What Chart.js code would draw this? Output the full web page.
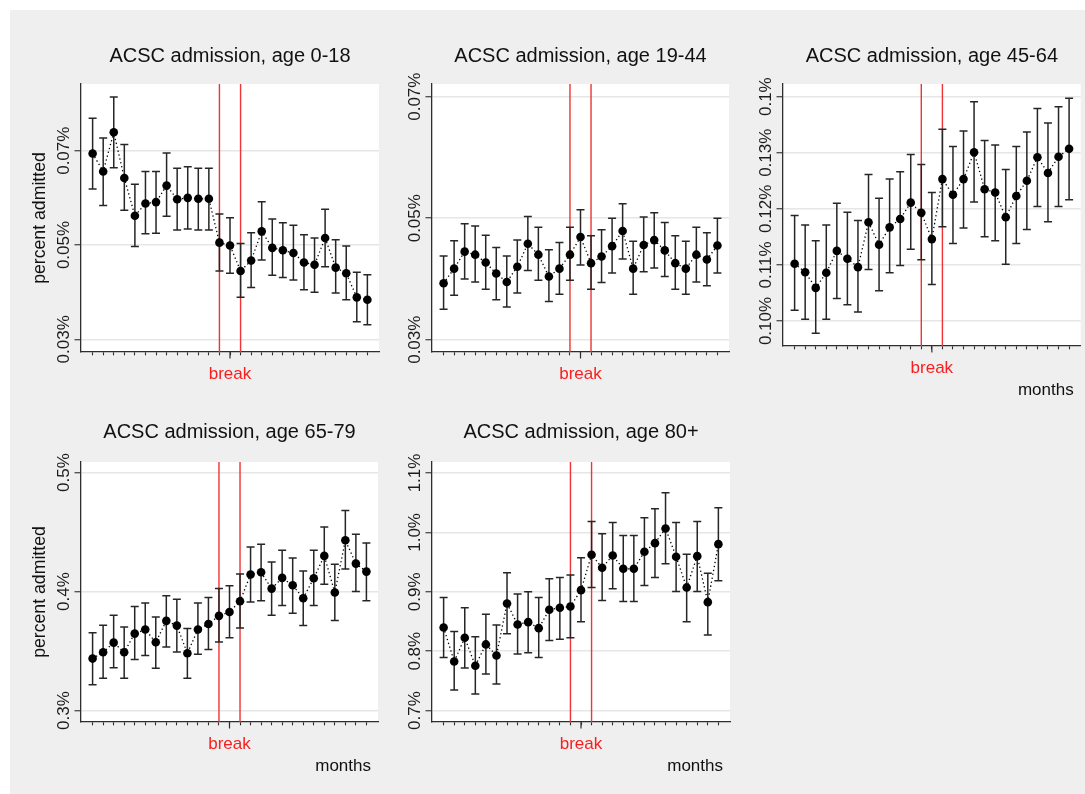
<!DOCTYPE html>
<html>
<head>
<meta charset="utf-8">
<script src="https://cdn.jsdelivr.net/npm/chart.js@4.4.1/dist/chart.umd.min.js"></script>
<style>
  html, body { margin: 0; padding: 0; background: #ffffff; }
  #page { position: relative; width: 1085px; height: 794px; background: #ffffff; overflow: hidden; }
  #region { position: absolute; left: 10px; top: 10px; width: 1075px; height: 784px; background: #efefef; }
  canvas { position: absolute; }
</style>
</head>
<body>
<div id="page">
  <div id="region"></div>
  <canvas id="p1"></canvas>
  <canvas id="p2"></canvas>
  <canvas id="p3"></canvas>
  <canvas id="p4"></canvas>
  <canvas id="p5"></canvas>
</div>
<script>
// Months relative to the break (0); the two red lines mark months -1 and +1.
const months = [-13, -12, -11, -10, -9, -8, -7, -6, -5, -4, -3, -2, -1, 0,
                1, 2, 3, 4, 5, 6, 7, 8, 9, 10, 11, 12, 13];
const breakLines = [-1, 1];
const breakLabel = 'break';
const xAxisTitle = 'months';
const yAxisTitle = 'percent admitted';

// Age 0-18: point estimate and 95% interval (percent admitted)
const est0_18 = [0.0694, 0.0656, 0.0739, 0.0642, 0.0562, 0.0588, 0.0591, 0.0626, 0.0597, 0.0600, 0.0598, 0.0598, 0.0505, 0.0499,
                 0.0445, 0.0467, 0.0529, 0.0494, 0.0489, 0.0483, 0.0463, 0.0458, 0.0515, 0.0452, 0.0440, 0.0389, 0.0384];
const hi0_18  = [0.0769, 0.0727, 0.0814, 0.0713, 0.0629, 0.0656, 0.0656, 0.0695, 0.0663, 0.0666, 0.0663, 0.0663, 0.0566, 0.0558,
                 0.0503, 0.0526, 0.0592, 0.0555, 0.0547, 0.0542, 0.0522, 0.0515, 0.0576, 0.0511, 0.0498, 0.0442, 0.0437];
const lo0_18  = [0.0619, 0.0584, 0.0664, 0.0574, 0.0497, 0.0524, 0.0525, 0.0561, 0.0532, 0.0534, 0.0532, 0.0532, 0.0445, 0.0440,
                 0.0389, 0.0410, 0.0468, 0.0436, 0.0431, 0.0426, 0.0405, 0.0400, 0.0454, 0.0398, 0.0384, 0.0337, 0.0331];
const ticks0_18 = [0.03, 0.05, 0.07];
const tickLabels0_18 = ['0.03%', '0.05%', '0.07%'];

// Age 19-44
const est19_44 = [0.0393, 0.0417, 0.0445, 0.0440, 0.0427, 0.0409, 0.0395, 0.0420, 0.0458, 0.0440, 0.0404, 0.0417, 0.0440, 0.0469,
                  0.0426, 0.0437, 0.0454, 0.0479, 0.0417, 0.0456, 0.0464, 0.0447, 0.0426, 0.0417, 0.0440, 0.0432, 0.0455];
const hi19_44  = [0.0438, 0.0463, 0.0491, 0.0487, 0.0472, 0.0452, 0.0438, 0.0464, 0.0503, 0.0485, 0.0448, 0.0460, 0.0485, 0.0514,
                  0.0471, 0.0481, 0.0500, 0.0524, 0.0462, 0.0502, 0.0509, 0.0493, 0.0471, 0.0462, 0.0485, 0.0476, 0.0500];
const lo19_44  = [0.0350, 0.0373, 0.0400, 0.0395, 0.0383, 0.0366, 0.0354, 0.0377, 0.0414, 0.0398, 0.0363, 0.0375, 0.0398, 0.0423,
                  0.0383, 0.0394, 0.0410, 0.0433, 0.0375, 0.0412, 0.0418, 0.0404, 0.0383, 0.0375, 0.0395, 0.0389, 0.0410];
const ticks19_44 = [0.03, 0.05, 0.07];
const tickLabels19_44 = ['0.03%', '0.05%', '0.07%'];

// Age 45-64
const est45_64 = [0.1102, 0.1087, 0.1059, 0.1086, 0.1125, 0.1111, 0.1096, 0.1176, 0.1136, 0.1167, 0.1182, 0.1211, 0.1193, 0.1146,
                  0.1253, 0.1225, 0.1253, 0.1301, 0.1235, 0.1229, 0.1185, 0.1223, 0.1250, 0.1292, 0.1264, 0.1293, 0.1307];
const hi45_64  = [0.1188, 0.1171, 0.1143, 0.1171, 0.1210, 0.1194, 0.1179, 0.1261, 0.1219, 0.1253, 0.1266, 0.1297, 0.1279, 0.1229,
                  0.1342, 0.1311, 0.1339, 0.1391, 0.1322, 0.1314, 0.1270, 0.1311, 0.1337, 0.1379, 0.1353, 0.1382, 0.1397];
const lo45_64  = [0.1019, 0.1003, 0.0978, 0.1003, 0.1040, 0.1029, 0.1016, 0.1092, 0.1054, 0.1086, 0.1099, 0.1128, 0.1109, 0.1065,
                  0.1168, 0.1138, 0.1166, 0.1212, 0.1150, 0.1143, 0.1101, 0.1138, 0.1163, 0.1204, 0.1177, 0.1204, 0.1216];
const ticks45_64 = [0.10, 0.11, 0.12, 0.13, 0.14];
const tickLabels45_64 = ['0.10%', '0.11%', '0.12%', '0.13%', '0.1%'];

// Age 65-79
const est65_79 = [0.3437, 0.3490, 0.3571, 0.3490, 0.3647, 0.3681, 0.3574, 0.3754, 0.3714, 0.3482, 0.3681, 0.3728, 0.3796, 0.3829,
                  0.3919, 0.4143, 0.4162, 0.4025, 0.4115, 0.4053, 0.3944, 0.4112, 0.4300, 0.3992, 0.4431, 0.4235, 0.4168];
const hi65_79  = [0.3653, 0.3717, 0.3801, 0.3703, 0.3874, 0.3905, 0.3787, 0.3966, 0.3936, 0.3689, 0.3905, 0.3950, 0.4025, 0.4050,
                  0.4148, 0.4375, 0.4398, 0.4249, 0.4347, 0.4283, 0.4174, 0.4347, 0.4543, 0.4230, 0.4681, 0.4482, 0.4409];
const lo65_79  = [0.3218, 0.3272, 0.3359, 0.3272, 0.3429, 0.3462, 0.3356, 0.3535, 0.3493, 0.3272, 0.3473, 0.3513, 0.3577, 0.3611,
                  0.3695, 0.3913, 0.3924, 0.3801, 0.3882, 0.3818, 0.3714, 0.3882, 0.4062, 0.3756, 0.4190, 0.4000, 0.3924];
const ticks65_79 = [0.3, 0.4, 0.5];
const tickLabels65_79 = ['0.3%', '0.4%', '0.5%'];

// Age 80+
const est80 = [0.8400, 0.7827, 0.8226, 0.7755, 0.8114, 0.7928, 0.8804, 0.8450, 0.8489, 0.8388, 0.8697, 0.8731, 0.8753, 0.9028,
               0.9623, 0.9404, 0.9612, 0.9387, 0.9387, 0.9673, 0.9819, 1.0066, 0.9589, 0.9073, 0.9600, 0.8826, 0.9802];
const hi80  = [0.8905, 0.8332, 0.8731, 0.8243, 0.8624, 0.8439, 0.9320, 0.8961, 0.9000, 0.8905, 0.9219, 0.9241, 0.9281, 0.9572,
               1.0184, 0.9976, 1.0167, 0.9948, 0.9948, 1.0245, 1.0397, 1.0666, 1.0167, 0.9634, 1.0184, 0.9314, 1.0414];
const lo80  = [0.7895, 0.7345, 0.7715, 0.7278, 0.7614, 0.7446, 0.8293, 0.7951, 0.7973, 0.7895, 0.8181, 0.8203, 0.8226, 0.8495,
               0.9073, 0.8854, 0.9050, 0.8837, 0.8837, 0.9107, 0.9241, 0.9471, 0.9006, 0.8495, 0.9006, 0.8271, 0.9185];
const ticks80 = [0.7, 0.8, 0.9, 1.0, 1.1];
const tickLabels80 = ['0.7%', '0.8%', '0.9%', '1.0%', '1.1%'];

// ---------------------------------------------------------------------------
const FONT = '"Liberation Sans", Arial, Helvetica, sans-serif';
const AXIS_COLOR = '#2e2e2e';
const TEXT_COLOR = '#111111';
const RED = 'rgb(238, 52, 52)';
const AX = 8; // reserved thickness of each axis box

// cell = canvas [x, y, w, h] on the page; plot = [left, top, right, bottom] of the plot region
const panels = [
  { id: 'p1', title: 'ACSC admission, age 0-18', est: est0_18, lo: lo0_18, hi: hi0_18,
    yTicks: ticks0_18, yLabels: tickLabels0_18, yMin: 0.02731, yMax: 0.08415,
    cell: [10, 10, 380, 400], plot: [81, 84, 379, 352], titleY: 62, yTitle: true, xTitle: false },
  { id: 'p2', title: 'ACSC admission, age 19-44', est: est19_44, lo: lo19_44, hi: hi19_44,
    yTicks: ticks19_44, yLabels: tickLabels19_44, yMin: 0.02798, yMax: 0.07209,
    cell: [390, 10, 350, 400], plot: [432, 84, 729, 352], titleY: 62, yTitle: false, xTitle: false },
  { id: 'p3', title: 'ACSC admission, age 45-64', est: est45_64, lo: lo45_64, hi: hi45_64,
    yTicks: ticks45_64, yLabels: tickLabels45_64, yMin: 0.09554, yMax: 0.14226,
    cell: [740, 10, 345, 400], plot: [783, 84, 1082, 346], titleY: 62, yTitle: false, xTitle: true },
  { id: 'p4', title: 'ACSC admission, age 65-79', est: est65_79, lo: lo65_79, hi: hi65_79,
    yTicks: ticks65_79, yLabels: tickLabels65_79, yMin: 0.2904, yMax: 0.5089,
    cell: [10, 410, 380, 384], plot: [81, 462, 378, 722], titleY: 438, yTitle: true, xTitle: true },
  { id: 'p5', title: 'ACSC admission, age 80+', est: est80, lo: lo80, hi: hi80,
    yTicks: ticks80, yLabels: tickLabels80, yMin: 0.6808, yMax: 1.1185,
    cell: [390, 410, 350, 384], plot: [432, 462, 730, 722], titleY: 438, yTitle: false, xTitle: true }
];

function decorPlugin(p) {
  return {
    id: 'panelDecor',
    beforeDraw(chart) {
      const a = chart.chartArea, ctx = chart.ctx;
      ctx.save();
      ctx.fillStyle = '#ffffff';
      ctx.fillRect(a.left, a.top, a.right - a.left, a.bottom - a.top);
      ctx.restore();
    },
    beforeDatasetsDraw(chart) {
      const a = chart.chartArea, ctx = chart.ctx;
      const xs = chart.scales.x, ys = chart.scales.y;
      ctx.save();
      // break window
      ctx.strokeStyle = RED;
      ctx.lineWidth = 1.4;
      breakLines.forEach(b => {
        const x = xs.getPixelForValue(b);
        ctx.beginPath();
        ctx.moveTo(x, a.top);
        ctx.lineTo(x, a.bottom);
        ctx.stroke();
      });
      // confidence intervals with caps
      ctx.strokeStyle = '#262626';
      ctx.lineWidth = 1.5;
      months.forEach((m, i) => {
        const x = xs.getPixelForValue(m);
        const yH = ys.getPixelForValue(p.hi[i]);
        const yL = ys.getPixelForValue(p.lo[i]);
        ctx.beginPath();
        ctx.moveTo(x, yH); ctx.lineTo(x, yL);
        ctx.moveTo(x - 4, yH); ctx.lineTo(x + 4, yH);
        ctx.moveTo(x - 4, yL); ctx.lineTo(x + 4, yL);
        ctx.stroke();
      });
      ctx.restore();
    },
    afterDraw(chart) {
      const a = chart.chartArea, ctx = chart.ctx;
      const xs = chart.scales.x, ys = chart.scales.y;
      const [cx, cy] = p.cell;
      ctx.save();
      // longer tick at the break
      const x0 = xs.getPixelForValue(0);
      ctx.strokeStyle = AXIS_COLOR;
      ctx.lineWidth = 1.2;
      ctx.beginPath();
      ctx.moveTo(x0, a.bottom); ctx.lineTo(x0, a.bottom + 6.5);
      ctx.stroke();

      // title
      ctx.fillStyle = TEXT_COLOR;
      ctx.font = '20px ' + FONT;
      ctx.textAlign = 'center';
      ctx.textBaseline = 'alphabetic';
      ctx.fillText(p.title, (a.left + a.right) / 2, p.titleY - cy);

      // y tick labels, written vertically
      ctx.font = '17px ' + FONT;
      ctx.fillStyle = '#1c1c1c';
      p.yTicks.forEach((v, i) => {
        const y = ys.getPixelForValue(v);
        ctx.save();
        ctx.translate(a.left - 12, y);
        ctx.rotate(-Math.PI / 2);
        ctx.textAlign = 'center';
        ctx.fillText(p.yLabels[i], 0, 0);
        ctx.restore();
      });

      // y axis title
      if (p.yTitle) {
        ctx.save();
        ctx.font = '17.7px ' + FONT;
        ctx.fillStyle = TEXT_COLOR;
        ctx.translate(a.left - 36, (a.top + a.bottom) / 2);
        ctx.rotate(-Math.PI / 2);
        ctx.textAlign = 'center';
        ctx.fillText(yAxisTitle, 0, 0);
        ctx.restore();
      }

      // break label
      ctx.font = '17px ' + FONT;
      ctx.fillStyle = 'rgb(250, 30, 30)';
      ctx.textAlign = 'center';
      ctx.fillText(breakLabel, x0, a.bottom + 26.5);

      // x axis title
      if (p.xTitle) {
        ctx.fillStyle = TEXT_COLOR;
        ctx.textAlign = 'right';
        ctx.fillText(xAxisTitle, a.right - 7, a.bottom + 48.5);
      }
      ctx.restore();
    }
  };
}

function buildPanel(p) {
  const canvas = document.getElementById(p.id);
  const [cx, cy, cw, ch] = p.cell;
  const [L, T, R, B] = p.plot;
  canvas.width = cw;
  canvas.height = ch;
  canvas.style.left = cx + 'px';
  canvas.style.top = cy + 'px';
  canvas.style.width = cw + 'px';
  canvas.style.height = ch + 'px';

  const padding = { left: L - cx - AX, top: T - cy, right: cx + cw - R, bottom: cy + ch - B - AX };

  new Chart(canvas, {
    type: 'line',
    data: {
      datasets: [{
        data: months.map((m, i) => ({ x: m, y: p.est[i] })),
        borderColor: '#000000',
        borderWidth: 1.3,
        borderDash: [1.3, 2.7],
        tension: 0,
        fill: false,
        pointRadius: 4.3,
        pointBackgroundColor: '#000000',
        pointBorderColor: '#000000',
        pointBorderWidth: 0
      }]
    },
    options: {
      responsive: false,
      animation: false,
      devicePixelRatio: 1,
      layout: { padding },
      plugins: { legend: { display: false }, tooltip: { enabled: false }, title: { display: false } },
      scales: {
        x: {
          type: 'linear', min: -14.1, max: 14.1,
          afterBuildTicks: s => { s.ticks = months.map(v => ({ value: v })); },
          afterFit: s => { s.height = AX; },
          ticks: { display: false },
          grid: { drawOnChartArea: false, drawTicks: true, tickLength: 3.3, tickColor: AXIS_COLOR, tickWidth: 1.1 },
          border: { color: AXIS_COLOR, width: 1.3 }
        },
        y: {
          type: 'linear', min: p.yMin, max: p.yMax,
          afterBuildTicks: s => { s.ticks = p.yTicks.map(v => ({ value: v })); },
          afterFit: s => { s.width = AX; },
          ticks: { display: false },
          grid: { color: '#e6e6e6', lineWidth: 1.5, drawTicks: true, tickLength: 6.5, tickColor: AXIS_COLOR, tickWidth: 1.1 },
          border: { color: AXIS_COLOR, width: 1.3 }
        }
      }
    },
    plugins: [decorPlugin(p)]
  });
}

panels.forEach(buildPanel);
</script>
</body>
</html>
